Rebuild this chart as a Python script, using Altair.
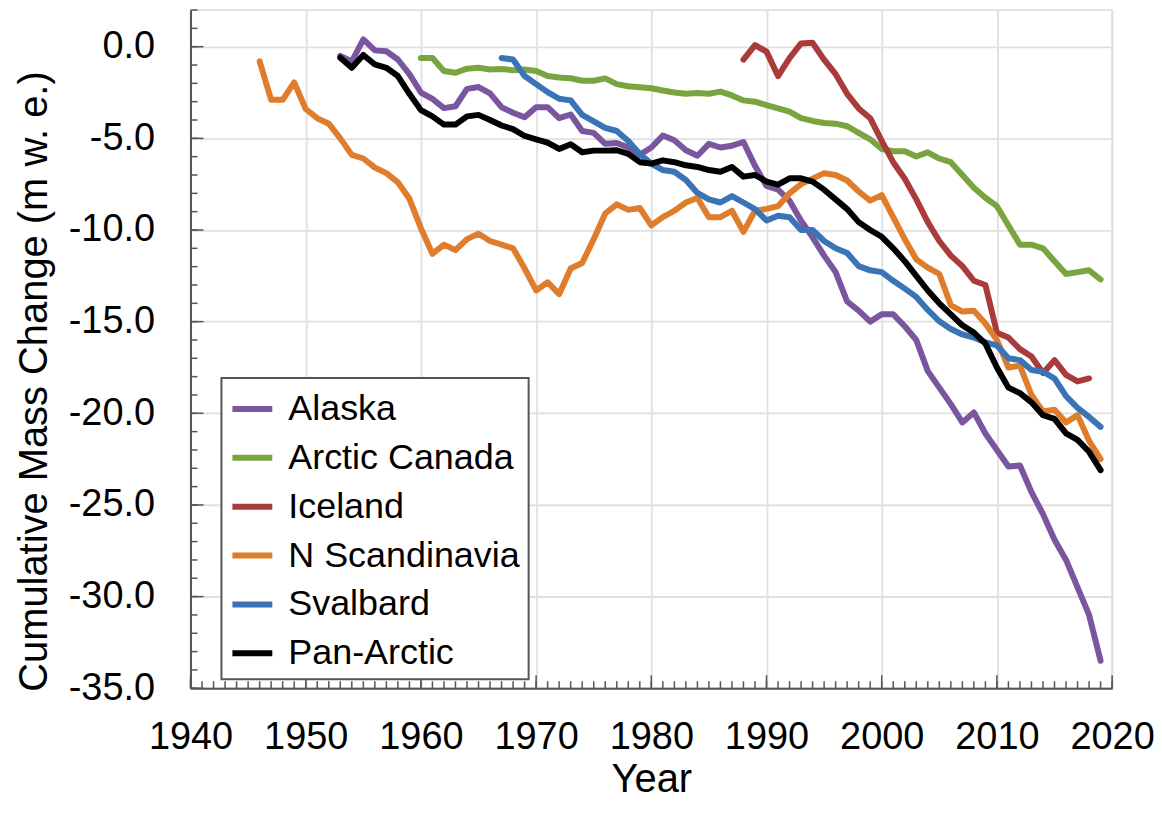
import altair as alt
import pandas as pd

# ---------------- data ----------------
region_names = ["Alaska", "Arctic Canada", "Iceland", "N Scandinavia", "Svalbard", "Pan-Arctic"]
region_colors = ["#7a569f", "#79a440", "#a93b3b", "#e07d2d", "#3b74b6", "#000000"]

alaska_years = list(range(1953, 2020))
alaska = [-0.5, -0.8, 0.4, -0.2, -0.25, -0.7, -1.5,
          -2.5, -2.85, -3.35, -3.25, -2.3, -2.2, -2.55, -3.3, -3.6, -3.85,
          -3.3, -3.3, -3.9, -3.7, -4.6, -4.7, -5.3, -5.25, -5.5, -5.9,
          -5.5, -4.85, -5.1, -5.65, -5.95, -5.3, -5.5, -5.4, -5.2, -6.5,
          -7.6, -7.8, -8.4, -9.5, -10.4, -11.4, -12.3, -13.9, -14.4, -15.0,
          -14.6, -14.6, -15.25, -16.0, -17.7, -18.6, -19.5, -20.5, -19.95, -21.1,
          -22.0, -22.9, -22.85, -24.3, -25.5, -26.9, -28.0, -29.5, -31.0, -33.5]

canada_years = list(range(1960, 2020))
arctic_canada = [-0.62, -0.62, -1.33, -1.42, -1.2, -1.15, -1.24, -1.22, -1.28, -1.24,
                 -1.33, -1.6, -1.68, -1.72, -1.86, -1.86, -1.73, -2.04, -2.16, -2.21,
                 -2.27, -2.39, -2.5, -2.57, -2.53, -2.57, -2.45, -2.66, -2.93, -3.0,
                 -3.19, -3.37, -3.54, -3.9, -4.05, -4.16, -4.2, -4.34, -4.7, -5.05,
                 -5.58, -5.7, -5.7, -5.99, -5.76, -6.1, -6.3, -7.0, -7.7, -8.24,
                 -8.7, -9.75, -10.8, -10.8, -11.0, -11.7, -12.4, -12.3, -12.2, -12.7]

iceland_years = list(range(1988, 2019))
iceland = [-0.71, 0.09,
           -0.27, -1.6, -0.62, 0.18, 0.21, -0.71, -1.5, -2.57, -3.37, -3.9,
           -5.14, -6.3, -7.2, -8.33, -9.57, -10.6, -11.4, -11.97, -12.77, -13.0,
           -15.6, -15.87, -16.5, -16.9, -17.8, -17.1, -17.9, -18.26, -18.1]

scand_years = list(range(1946, 2020))
n_scandinavia = [-0.8, -2.9, -2.9, -1.95,
                 -3.4, -3.9, -4.2, -5.0, -5.9, -6.1, -6.6, -6.9, -7.4, -8.3,
                 -9.9, -11.3, -10.8, -11.1, -10.5, -10.2, -10.6, -10.8, -11.0, -12.1,
                 -13.3, -12.85, -13.5, -12.1, -11.8, -10.5, -9.1, -8.6, -8.9, -8.8,
                 -9.75, -9.3, -8.95, -8.5, -8.25, -9.3, -9.3, -8.95, -10.1, -8.95,
                 -8.85, -8.7, -8.0, -7.5, -7.2, -6.9, -7.0, -7.3, -7.9, -8.4,
                 -8.1, -9.3, -10.5, -11.6, -12.05, -12.4, -14.1, -14.45, -14.4, -15.1,
                 -16.0, -17.5, -17.4, -19.0, -19.9, -19.8, -20.5, -20.1, -21.5, -22.5]

svalbard_years = list(range(1967, 2020))
svalbard = [-0.62, -0.7, -1.6,
            -2.04, -2.48, -2.84, -2.93, -3.72, -4.07, -4.43, -4.6, -5.14, -5.85,
            -6.38, -6.73, -6.82, -7.27, -7.98, -8.33, -8.5, -8.15, -8.5, -8.86,
            -9.48, -9.22, -9.3, -10.0, -10.0, -10.6, -11.0, -11.25, -11.97, -12.2,
            -12.3, -12.77, -13.2, -13.65, -14.36, -14.98, -15.4, -15.7, -15.87, -16.13,
            -16.3, -17.0, -17.1, -17.64, -17.73, -18.1, -19.06, -19.7, -20.2, -20.74]

pan_years = list(range(1953, 2020))
pan_arctic = [-0.6, -1.15, -0.45, -0.97, -1.15, -1.6, -2.57,
              -3.46, -3.8, -4.25, -4.25, -3.8, -3.72, -4.0, -4.3, -4.5, -4.87,
              -5.05, -5.23, -5.58, -5.32, -5.76, -5.67, -5.67, -5.65, -5.85, -6.3,
              -6.38, -6.2, -6.3, -6.47, -6.56, -6.73, -6.82, -6.56, -7.09, -7.0,
              -7.36, -7.53, -7.18, -7.18, -7.36, -7.8, -8.33, -8.86, -9.57, -10.0,
              -10.37, -11.0, -11.7, -12.5, -13.3, -14.0, -14.6, -15.2, -15.6, -16.2,
              -17.5, -18.6, -18.9, -19.4, -20.1, -20.3, -21.1, -21.45, -22.1, -23.1]

x_tick_labels = [1940, 1950, 1960, 1970, 1980, 1990, 2000, 2010, 2020]
y_tick_labels = [0, -5, -10, -15, -20, -25, -30, -35]
x_minor_ticks = list(range(1940, 2021))
y_minor_ticks = list(range(-35, 3))

# ---------------- table ----------------
series = [
    ("Alaska", alaska_years, alaska),
    ("Arctic Canada", canada_years, arctic_canada),
    ("Iceland", iceland_years, iceland),
    ("N Scandinavia", scand_years, n_scandinavia),
    ("Svalbard", svalbard_years, svalbard),
    ("Pan-Arctic", pan_years, pan_arctic),
]
rows = []
for name, yrs, vals in series:
    assert len(yrs) == len(vals), name
    for yr, v in zip(yrs, vals):
        rows.append({"Region": name, "Year": yr, "Change": v})
df = pd.DataFrame(rows)

FONT = "Liberation Sans"
W, H = 924, 680
X_TITLE = "Year"
Y_TITLE = "Cumulative Mass Change (m w. e.)"

x_scale = alt.Scale(domain=[1940, 2020], nice=False, zero=False)
y_scale = alt.Scale(domain=[-35, 2], nice=False, zero=False)

x_axis = alt.Axis(values=x_tick_labels, format="d",
                  labelPadding=30, labelFlush=False, labelOverlap=False,
                  titleY=92, titleBaseline="middle")
y_axis = alt.Axis(values=y_tick_labels,
                  labelExpr="datum.value < 0 ? '-' + format(-datum.value, '.1f') : format(datum.value, '.1f')",
                  labelPadding=36, labelFlush=False, labelOverlap=False,
                  titleX=-156, titleY=372, titleAlign="center", titleBaseline="middle")

lines = alt.Chart(df).mark_line(strokeWidth=6, strokeCap="round", strokeJoin="round").encode(
    x=alt.X("Year:Q", scale=x_scale, title=X_TITLE, axis=x_axis),
    y=alt.Y("Change:Q", scale=y_scale, title=Y_TITLE, axis=y_axis),
    color=alt.Color("Region:N", scale=alt.Scale(domain=region_names, range=region_colors),
                    legend=alt.Legend(title=None, orient="none", legendX=31, legendY=369,
                                      strokeColor="#555555", fillColor="white", padding=8,
                                      labelFont=FONT, labelFontSize=36, labelColor="black",
                                      labelLimit=0,
                                      labelExpr="datum.label + '\u00a0\u00a0'",
                                      symbolType="stroke", symbolSize=1600, symbolStrokeWidth=6,
                                      labelOffset=13, rowPadding=8)),
)

tick_style = dict(color="#555555", strokeWidth=1.5)

x_minor = alt.Chart(pd.DataFrame({"Year": x_minor_ticks})).mark_rule(**tick_style).encode(
    x=alt.X("Year:Q", scale=x_scale, title=X_TITLE, axis=x_axis), y=alt.value(H), y2=alt.value(H - 7))
x_major = alt.Chart(pd.DataFrame({"Year": x_tick_labels})).mark_rule(**tick_style).encode(
    x=alt.X("Year:Q", scale=x_scale, title=X_TITLE, axis=x_axis), y=alt.value(H), y2=alt.value(H - 13))
y_minor = alt.Chart(pd.DataFrame({"Change": y_minor_ticks})).mark_rule(**tick_style).encode(
    y=alt.Y("Change:Q", scale=y_scale, title=Y_TITLE, axis=y_axis), x=alt.value(0), x2=alt.value(7))
y_major = alt.Chart(pd.DataFrame({"Change": y_tick_labels})).mark_rule(**tick_style).encode(
    y=alt.Y("Change:Q", scale=y_scale, title=Y_TITLE, axis=y_axis), x=alt.value(0), x2=alt.value(13))

chart = alt.layer(lines, x_minor, x_major, y_minor, y_major).properties(
    width=W, height=H,
    autosize=alt.AutoSizeParams(type="none"),
    padding={"left": 183, "top": 1, "right": 42, "bottom": 111},
).configure_axis(
    labelFont=FONT, labelFontSize=38, labelColor="black",
    titleFont=FONT, titleFontSize=40, titleFontWeight="normal", titleColor="black",
    ticks=False, domainColor="#555555", domainWidth=2,
    gridColor="#e0e0e0", gridWidth=1.8,
).configure_view(
    stroke="#e0e0e0", strokeWidth=1.8,
).configure_legend(
    strokeWidth=2,
)

chart.save("out.html", embed_options={"renderer": "svg", "actions": False})
